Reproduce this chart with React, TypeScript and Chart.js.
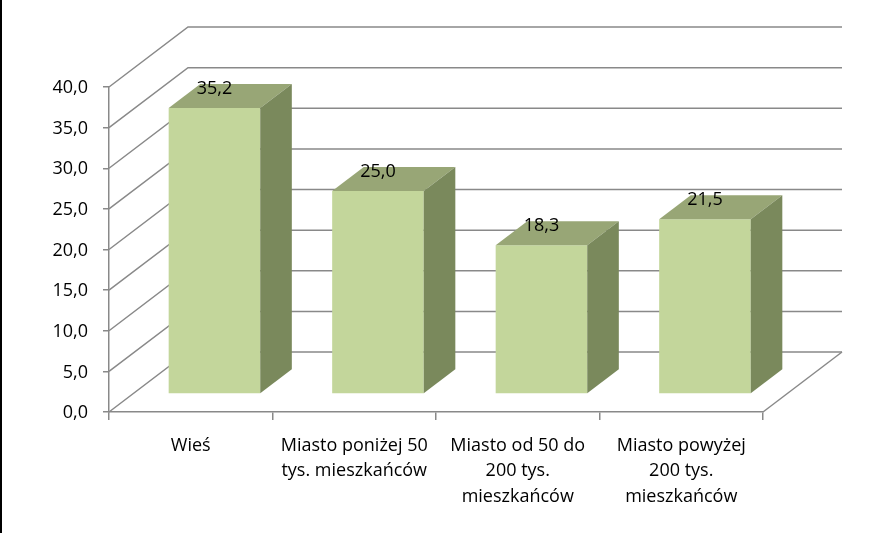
import React, { useEffect, useRef } from 'react';
import { Chart, registerables } from 'chart.js';

Chart.register(...registerables);

// ---- data ----
const categories: string[][] = [
  ['Wieś'],
  ['Miasto poniżej 50', 'tys. mieszkańców'],
  ['Miasto od 50 do', '200 tys.', 'mieszkańców'],
  ['Miasto powyżej', '200 tys.', 'mieszkańców'],
];
const values: number[] = [35.2, 25.0, 18.3, 21.5];
const valueLabels: string[] = ['35,2', '25,0', '18,3', '21,5'];
const yTickLabels: string[] = ['0,0', '5,0', '10,0', '15,0', '20,0', '25,0', '30,0', '35,0', '40,0'];
const yMin = 0;
const yMax = 40;
const yStep = 5;

// ---- style ----
const FONT = "'Open Sans', sans-serif";
const GRID = '#898989';
const FRONT = '#C3D69B';
const TOP = '#98A676';
const SIDE = '#7A895C';
const DX = 79; // wall depth offset
const DY = -60;
const F0 = 0.3; // bar front depth fraction
const F1 = 0.7; // bar back depth fraction

const threeD = {
  id: 'threeD',
  beforeDatasetsDraw(chart: any) {
    const { ctx, chartArea: a, scales } = chart;
    const y = scales.y;
    ctx.save();
    ctx.strokeStyle = GRID;
    ctx.lineWidth = 1.5;
    y.ticks.forEach((t: any) => {
      const py = y.getPixelForValue(t.value);
      ctx.beginPath();
      ctx.moveTo(a.left, py);
      ctx.lineTo(a.left + DX, py + DY);
      ctx.lineTo(a.right + DX, py + DY);
      ctx.stroke();
    });
    ctx.beginPath();
    ctx.moveTo(a.right, a.bottom);
    ctx.lineTo(a.right + DX, a.bottom + DY);
    ctx.stroke();
    ctx.restore();
    ctx.save();
    ctx.translate(DX * F0, DY * F0);
  },
  afterDatasetsDraw(chart: any) {
    const { ctx } = chart;
    ctx.restore();
    const meta = chart.getDatasetMeta(0);
    const ddx = DX * (F1 - F0);
    const ddy = DY * (F1 - F0);
    meta.data.forEach((bar: any, i: number) => {
      const { x, y, base, width } = bar.getProps(['x', 'y', 'base', 'width'], true);
      const xl = x - width / 2 + DX * F0;
      const xr = x + width / 2 + DX * F0;
      const yt = y + DY * F0;
      const yb = base + DY * F0;
      ctx.save();
      ctx.fillStyle = TOP;
      ctx.beginPath();
      ctx.moveTo(xl, yt);
      ctx.lineTo(xr, yt);
      ctx.lineTo(xr + ddx, yt + ddy);
      ctx.lineTo(xl + ddx, yt + ddy);
      ctx.closePath();
      ctx.fill();
      ctx.fillStyle = SIDE;
      ctx.beginPath();
      ctx.moveTo(xr, yt);
      ctx.lineTo(xr + ddx, yt + ddy);
      ctx.lineTo(xr + ddx, yb + ddy);
      ctx.lineTo(xr, yb);
      ctx.closePath();
      ctx.fill();
      ctx.fillStyle = '#000';
      ctx.font = `18px ${FONT}`;
      ctx.textAlign = 'center';
      ctx.textBaseline = 'alphabetic';
      ctx.fillText(valueLabels[i], x + DX * F0, yt - 14);
      ctx.restore();
    });
  },
};

export default function App() {
  const ref = useRef<HTMLCanvasElement | null>(null);

  useEffect(() => {
    if (!ref.current) return;
    const chart = new Chart(ref.current, {
      type: 'bar',
      data: {
        labels: categories,
        datasets: [
          {
            data: values,
            backgroundColor: FRONT,
            borderWidth: 0,
            categoryPercentage: 1,
            barPercentage: 0.56,
            clip: false as any,
          },
        ],
      },
      options: {
        responsive: false,
        animation: false,
        events: [],
        layout: { padding: { left: 0, top: 87, right: 133, bottom: 0 } },
        plugins: { legend: { display: false }, tooltip: { enabled: false } },
        scales: {
          x: {
            grid: {
              display: true,
              drawOnChartArea: false,
              drawTicks: true,
              tickLength: 8,
              color: GRID,
              lineWidth: 1.5,
            },
            border: { display: true, color: GRID, width: 1.5 },
            ticks: {
              color: '#000',
              font: { family: FONT, size: 18, lineHeight: 1.42 },
              padding: 13,
              autoSkip: false,
              maxRotation: 0,
              minRotation: 0,
            },
            afterFit(scale: any) {
              scale.height = 121;
            },
          },
          y: {
            min: yMin,
            max: yMax,
            ticks: {
              stepSize: yStep,
              color: '#000',
              font: { family: FONT, size: 18 },
              padding: 15,
              labelOffset: 1,
              callback: (_v: any, i: number) => yTickLabels[i],
            },
            grid: {
              display: true,
              drawOnChartArea: false,
              drawTicks: true,
              tickLength: 6,
              color: GRID,
              lineWidth: 1.5,
            },
            border: { display: true, color: GRID, width: 1.5 },
            afterFit(scale: any) {
              scale.width = 109;
            },
          },
        },
      },
      plugins: [threeD],
    });
    return () => chart.destroy();
  }, []);

  return (
    <div style={{ position: 'fixed', left: 0, top: 0, width: 896, height: 533, background: '#fff' }}>
      <canvas ref={ref} width={896} height={533} style={{ position: 'absolute', left: 0, top: 0, width: 896, height: 533 }} />
      <div style={{ position: 'absolute', left: 0, top: 0, width: 2, height: 533, background: '#000' }} />
    </div>
  );
}
